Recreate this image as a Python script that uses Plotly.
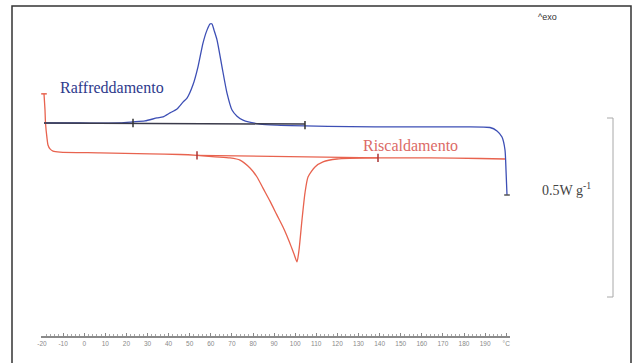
import plotly.graph_objects as go

# ---- data (temperature in °C, heat flow in W/g, exo up) ----
cool_T = [-19.05, -1.99, 16.97, 23.13, 28.82, 34.50, 37.35, 40.66, 43.98, 46.82, 48.72,
          51.56, 53.93, 56.30, 58.20, 59.62, 60.57, 61.52, 62.94, 65.31, 67.68, 70.05,
          72.42, 75.26, 83.32, 91.37, 104.64, 125.97, 149.67, 173.36, 192.32, 195.64,
          198.01, 199.43, 199.91, 200.38]
cool_H = [0.0, 0.0, 0.0, 0.003, 0.006, 0.014, 0.017, 0.028, 0.039, 0.058, 0.069,
          0.106, 0.156, 0.222, 0.258, 0.275, 0.275, 0.258, 0.231, 0.156, 0.083, 0.036,
          0.019, 0.008, -0.003, -0.006, -0.008, -0.010, -0.011, -0.011, -0.0125, -0.022,
          -0.039, -0.075, -0.131, -0.200]

heat_T = [-19.05, -18.58, -18.34, -17.63, -17.16, -16.21, -14.79, -11.47, 7.49, 31.18,
          45.40, 53.46, 61.99, 69.10, 73.84, 78.58, 81.90, 84.74, 88.06, 91.37, 94.22,
          96.11, 98.01, 99.43, 100.85, 101.80, 103.22, 104.64, 106.07, 109.38, 113.18,
          119.81, 139.24, 163.89, 187.58, 199.43]
heat_H = [0.081, 0.036, 0.0, -0.042, -0.061, -0.072, -0.078, -0.081, -0.083, -0.086,
          -0.0875, -0.090, -0.094, -0.097, -0.103, -0.125, -0.150, -0.181, -0.217, -0.256,
          -0.289, -0.314, -0.342, -0.364, -0.386, -0.353, -0.269, -0.194, -0.150, -0.122,
          -0.108, -0.100, -0.097, -0.097, -0.0986, -0.100]

cool_base_T = [-19.05, 104.64]
cool_base_H = [0.0, -0.003]
cool_lim_T = [23.13, 104.64]
cool_lim_H = [0.0, -0.006]
heat_base_T = [53.46, 139.24]
heat_base_H = [-0.090, -0.097]
heat_lim_T = [53.46, 139.24]
heat_lim_H = [-0.090, -0.097]

tick_vals = list(range(-20, 201, 10))
tick_text = [str(v) for v in range(-20, 191, 10)] + ["°C"]

cool_label = "Raffreddamento"
heat_label = "Riscaldamento"
scale_label = "0.5W g<sup>-1</sup>"
exo_label = "^exo"

BLUE = "#3d4fb5"
RED = "#e8634f"
SERIF = "Liberation Serif"
SANS = "Liberation Sans"

# ---- layout geometry (pixels) ----
W, H = 638, 363
L, R, T, B = 41, 128, 6, 27
pw, ph = W - L - R, H - T - B


def px(x):
    return (x - L) / pw


def py(y):
    return (H - B - y) / ph


fig = go.Figure()
fig.add_trace(go.Scatter(x=cool_T, y=cool_H, mode="lines",
                         line=dict(color=BLUE, width=1.3, shape="spline", smoothing=0.6),
                         hoverinfo="skip"))
fig.add_trace(go.Scatter(x=heat_T, y=heat_H, mode="lines",
                         line=dict(color=RED, width=1.3, shape="spline", smoothing=0.6),
                         hoverinfo="skip"))
fig.add_trace(go.Scatter(x=cool_base_T, y=cool_base_H, mode="lines",
                         line=dict(color="#3a3a4a", width=1.5), hoverinfo="skip"))
fig.add_trace(go.Scatter(x=heat_base_T, y=heat_base_H, mode="lines",
                         line=dict(color=RED, width=1.2), hoverinfo="skip"))
fig.add_trace(go.Scatter(x=cool_lim_T, y=cool_lim_H, mode="markers",
                         marker=dict(symbol="line-ns", size=6,
                                     line=dict(color="#333", width=1.5)), hoverinfo="skip"))
fig.add_trace(go.Scatter(x=heat_lim_T, y=heat_lim_H, mode="markers",
                         marker=dict(symbol="line-ns", size=6,
                                     line=dict(color="#a33", width=1.5)), hoverinfo="skip"))
fig.add_trace(go.Scatter(x=[heat_T[0]], y=[heat_H[0]], mode="markers",
                         marker=dict(symbol="line-ew", size=4, line=dict(color=RED, width=1.5)),
                         hoverinfo="skip"))
fig.add_trace(go.Scatter(x=[cool_T[-1]], y=[cool_H[-1]], mode="markers",
                         marker=dict(symbol="line-ew", size=4, line=dict(color="#555", width=1.5)),
                         hoverinfo="skip"))

x0 = -20 + (L - 42) / 2.11
x1 = -20 + (W - R - 42) / 2.11
y_top = (123 - T) / 360
y_bot = (123 - (H - B)) / 360

fig.update_layout(
    width=W, height=H,
    margin=dict(l=L, r=R, t=T, b=B),
    paper_bgcolor="white", plot_bgcolor="white",
    showlegend=False,
    font=dict(family=SERIF),
    xaxis=dict(range=[x0, x1], tickvals=tick_vals, ticktext=tick_text,
               showgrid=False, zeroline=False, showline=True, linecolor="#8a8a8a",
               linewidth=2, ticks="inside", ticklen=3, tickcolor="#888",
               tickfont=dict(size=6.5, color="#8a8a8a", family=SANS),
               minor=dict(ticks="inside", ticklen=2, dtick=2, tickcolor="#aaa"),
               fixedrange=True),
    yaxis=dict(range=[y_bot, y_top], visible=False, fixedrange=True),
)

# frame of the figure
fig.add_shape(type="rect", xref="paper", yref="paper",
              x0=px(12), x1=px(631), y0=py(366), y1=py(6),
              line=dict(color="#333", width=1.5), layer="below")

# scale bracket
fig.add_shape(type="path", xref="paper", yref="paper",
              path=f"M {px(607)} {py(118)} L {px(613)} {py(118)} L {px(613)} {py(297)} L {px(607)} {py(297)}",
              line=dict(color="#a8a8a8", width=1))

fig.add_annotation(x=px(58), y=py(87), xref="paper", yref="paper", text=cool_label,
                   showarrow=False, xanchor="left", yanchor="middle",
                   font=dict(size=16, color="#2e3a8c", family=SERIF))
fig.add_annotation(x=px(361), y=py(146), xref="paper", yref="paper", text=heat_label,
                   showarrow=False, xanchor="left", yanchor="middle",
                   font=dict(size=16, color="#dc6a66", family=SERIF))
fig.add_annotation(x=px(540), y=py(189), xref="paper", yref="paper", text=scale_label,
                   showarrow=False, xanchor="left", yanchor="middle",
                   font=dict(size=14, color="#444", family=SERIF))
fig.add_annotation(x=px(536), y=py(17), xref="paper", yref="paper", text=exo_label,
                   showarrow=False, xanchor="left", yanchor="middle",
                   font=dict(size=9, color="#333", family=SANS))

fig.write_html("out.html",
               config={"displayModeBar": False},
               post_script="document.body.style.margin='0';document.body.style.overflow='hidden';")
